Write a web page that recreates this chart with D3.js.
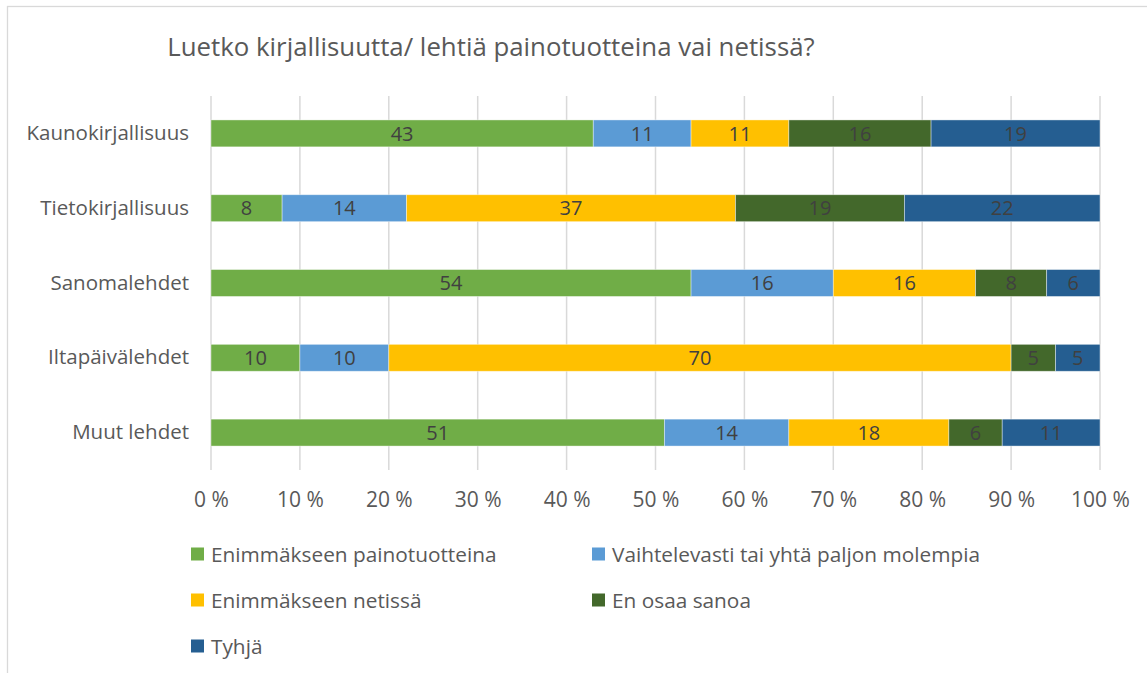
<!DOCTYPE html>
<html>
<head>
<meta charset="utf-8">
<script src="https://cdn.jsdelivr.net/npm/d3@7"></script>
<style>
  body { margin: 0; background: #fff; }
  text { font-family: "Open Sans", "Noto Sans", sans-serif; }
</style>
</head>
<body>
<script>
const title = "Luetko kirjallisuutta/ lehtiä painotuotteina vai netissä?";
const categories = ["Kaunokirjallisuus", "Tietokirjallisuus", "Sanomalehdet", "Iltapäivälehdet", "Muut lehdet"];
const seriesNames = ["Enimmäkseen painotuotteina", "Vaihtelevasti tai yhtä paljon molempia", "Enimmäkseen netissä", "En osaa sanoa", "Tyhjä"];
const seriesColors = ["#70AD47", "#5B9BD5", "#FFC000", "#43682B", "#255E91"];
const painotuotteina = [43, 8, 54, 10, 51];
const vaihtelevasti = [11, 14, 16, 10, 14];
const netissa = [11, 37, 16, 70, 18];
const enOsaa = [16, 19, 8, 5, 6];
const tyhja = [19, 22, 6, 5, 11];
const tickValues = [0, 0.1, 0.2, 0.3, 0.4, 0.5, 0.6, 0.7, 0.8, 0.9, 1];

const width = 1147, height = 673;
const plot = {left: 211, right: 1100, top: 96, bottom: 470};

const svg = d3.select("body").append("svg")
    .attr("width", width)
    .attr("height", height);

// chart frame
svg.append("rect")
    .attr("x", 7.5).attr("y", 6.5)
    .attr("width", 1150).attr("height", 680)
    .attr("fill", "#fff")
    .attr("stroke", "#d9d9d9")
    .attr("stroke-width", 1.3);

svg.append("text")
    .attr("x", 491).attr("y", 56)
    .attr("text-anchor", "middle")
    .attr("fill", "#595959")
    .attr("font-size", 25.8)
    .text(title);

const rows = categories.map((c, i) => {
    const row = {category: c};
    const vals = [painotuotteina[i], vaihtelevasti[i], netissa[i], enOsaa[i], tyhja[i]];
    const total = d3.sum(vals);
    seriesNames.forEach((s, j) => row[s] = vals[j] / total);
    row.raw = vals;
    return row;
});

const x = d3.scaleLinear().domain([0, 1]).range([plot.left, plot.right]);
const y = d3.scaleBand().domain(categories).range([plot.top, plot.bottom]).paddingInner(0.64).paddingOuter(0.32);

// gridlines
svg.append("g")
    .selectAll("line")
    .data(tickValues)
    .join("line")
    .attr("x1", d => x(d)).attr("x2", d => x(d))
    .attr("y1", plot.top).attr("y2", plot.bottom)
    .attr("stroke", "#d9d9d9")
    .attr("stroke-width", 1.5);

const stack = d3.stack().keys(seriesNames)(rows);

const layers = svg.append("g")
    .selectAll("g")
    .data(stack)
    .join("g")
    .attr("fill", (d, i) => seriesColors[i]);

layers.selectAll("rect")
    .data(d => d)
    .join("rect")
    .attr("x", d => x(d[0]))
    .attr("width", d => x(d[1]) - x(d[0]))
    .attr("y", d => y(d.data.category))
    .attr("height", y.bandwidth())
    .attr("stroke", "#fff")
    .attr("stroke-opacity", 0.5)
    .attr("stroke-width", 0.8);

layers.each(function (layer, j) {
    d3.select(this).selectAll("text")
        .data(layer)
        .join("text")
        .attr("x", d => (x(d[0]) + x(d[1])) / 2)
        .attr("y", d => y(d.data.category) + y.bandwidth() / 2)
        .attr("dy", "0.36em")
        .attr("text-anchor", "middle")
        .attr("fill", "#404040")
        .attr("font-size", 20)
        .text(d => d.data.raw[j]);
});

// category axis
const yAxis = svg.append("g")
    .attr("transform", `translate(${plot.left},0)`)
    .call(d3.axisLeft(y).tickSize(0).tickPadding(22));
yAxis.select(".domain").remove();
yAxis.selectAll("text")
    .attr("fill", "#595959")
    .attr("font-size", 20.5)
    .style("font-family", "'Open Sans', sans-serif");

// value axis
const xAxis = svg.append("g")
    .attr("transform", `translate(0,${plot.bottom})`)
    .call(d3.axisBottom(x).tickValues(tickValues).tickSize(0).tickPadding(22)
        .tickFormat(d => Math.round(d * 100) + " %"));
xAxis.select(".domain").remove();
xAxis.selectAll("text")
    .attr("fill", "#595959")
    .attr("font-size", 21)
    .style("font-family", "'Open Sans', sans-serif");

// legend
const legendPos = [[191, 554], [592, 554], [191, 600], [592, 600], [191, 646]];
const legend = svg.append("g")
    .selectAll("g")
    .data(seriesNames)
    .join("g")
    .attr("transform", (d, i) => `translate(${legendPos[i][0]},${legendPos[i][1]})`);
legend.append("rect")
    .attr("x", 0).attr("y", -6.5)
    .attr("width", 13).attr("height", 13)
    .attr("fill", (d, i) => seriesColors[i]);
legend.append("text")
    .attr("x", 20)
    .attr("dy", "0.36em")
    .attr("fill", "#595959")
    .attr("font-size", 20.8)
    .text(d => d);
</script>
</body>
</html>
